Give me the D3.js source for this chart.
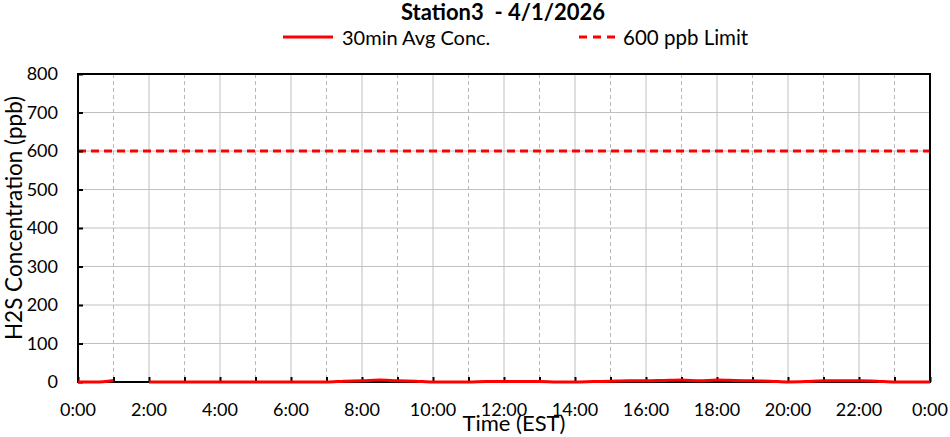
<!DOCTYPE html>
<html><head><meta charset="utf-8">
<script src="https://cdn.jsdelivr.net/npm/d3@7"></script>
<style>body{margin:0;background:#fff}svg{display:block;font-family:Lato,'Open Sans',sans-serif}</style>
</head><body><svg id="c" width="950" height="437"></svg>
<script>
const title = "Station3  - 4/1/2026";
const seriesNames = ["30min Avg Conc.", "600 ppb Limit"];
const hours = [0,0.5,1,1.5,2,2.5,3,3.5,4,4.5,5,5.5,6,6.5,7,7.5,8,8.5,9,9.5,10,10.5,11,11.5,12,12.5,13,13.5,14,14.5,15,15.5,16,16.5,17,17.5,18,18.5,19,19.5,20,20.5,21,21.5,22,22.5,23,23.5,24];
const conc = [0,0,4,null,0,0,0,0,0,0,0,0,0,0,0,2,3,5,3,2,0,0,0,1,1,1,1,0,0,1,2,3,3,4,5,3,5,4,3,2,0,1,3,3,3,2,0,0,0];
const limit = 600;
const yTicks = [0,100,200,300,400,500,600,700,800];
const xTickHours = [0,2,4,6,8,10,12,14,16,18,20,22,24];
const xTickLabels = ["0:00","2:00","4:00","6:00","8:00","10:00","12:00","14:00","16:00","18:00","20:00","22:00","0:00"];

const svg = d3.select("#c");
const m = {l:78, r:930, t:74, b:382};
const x = d3.scaleLinear().domain([0,24]).range([m.l, m.r]);
const y = d3.scaleLinear().domain([0,800]).range([m.b, m.t]);

// gridlines
const g = svg.append("g");
g.selectAll("line.h").data(yTicks.slice(1)).join("line")
  .attr("x1", m.l).attr("x2", m.r).attr("y1", d=>y(d)).attr("y2", d=>y(d))
  .attr("stroke", "#c0c0c0").attr("stroke-width", 1);
const allHours = d3.range(1,24);
g.selectAll("line.v").data(allHours).join("line")
  .attr("x1", d=>x(d)).attr("x2", d=>x(d)).attr("y1", m.t).attr("y2", m.b)
  .attr("stroke", d=> d%2===0 ? "#c0c0c0" : "#b8b8b8")
  .attr("stroke-width", 1)
  .attr("stroke-dasharray", d=> d%2===0 ? null : "4,3");

// limit line
svg.append("line").attr("x1", m.l).attr("x2", m.r).attr("y1", y(limit)).attr("y2", y(limit))
  .attr("stroke", "#ff0000").attr("stroke-width", 3).attr("stroke-dasharray", "8,5");

// axes with inward ticks
const xAxis = d3.axisBottom(x).tickValues(d3.range(0,25)).tickSize(-5).tickFormat("");
svg.append("g").attr("transform", `translate(0,${m.b})`).call(xAxis)
  .call(s=>s.select(".domain").remove())
  .call(s=>s.selectAll(".tick line").attr("stroke","#000").attr("stroke-width",2));
const yAxis = d3.axisLeft(y).tickValues(yTicks).tickSize(-5).tickFormat("");
svg.append("g").attr("transform", `translate(${m.l},0)`).call(yAxis)
  .call(s=>s.select(".domain").remove())
  .call(s=>s.selectAll(".tick line").attr("stroke","#000").attr("stroke-width",2));

// frame
svg.append("rect").attr("x", m.l).attr("y", m.t).attr("width", m.r-m.l).attr("height", m.b-m.t)
  .attr("fill","none").attr("stroke","#000").attr("stroke-width",2);

// data line
const pts = hours.map((h,i)=>({h, v:conc[i]}));
const line = d3.line().defined(d=>d.v!==null).x(d=>x(d.h)).y(d=>y(d.v)).curve(d3.curveMonotoneX);
svg.append("path").datum(pts).attr("d", line).attr("fill","none")
  .attr("stroke","#ff0000").attr("stroke-width",3);

// tick labels
svg.append("g").selectAll("text").data(yTicks).join("text")
  .attr("x", 58).attr("y", d=>y(d)).attr("dy","0.36em").attr("text-anchor","end")
  .attr("font-size", 18).attr("fill","#000").text(d=>d);
svg.append("g").selectAll("text").data(xTickHours).join("text")
  .attr("x", d=>x(d)).attr("y", 416).attr("text-anchor","middle")
  .attr("font-size", 18).attr("fill","#000").text((d,i)=>xTickLabels[i]);

// axis titles
svg.append("text").attr("transform","translate(22,218) rotate(-90)").attr("text-anchor","middle")
  .attr("font-size", 22.5).attr("fill","#000").text("H2S Concentration (ppb)");
svg.append("text").attr("x", 514).attr("y", 431).attr("text-anchor","middle")
  .attr("font-size", 22).attr("fill","#000").text("Time (EST)");

// title
svg.append("text").attr("x", 503).attr("y", 20).attr("text-anchor","middle")
  .attr("font-size", 22).attr("font-weight","bold").attr("fill","#000").style("white-space","pre")
  .attr("xml:space","preserve").text(title);

// legend
const lg = svg.append("g");
lg.append("line").attr("x1",283).attr("x2",333).attr("y1",37).attr("y2",37).attr("stroke","#ff0000").attr("stroke-width",3);
lg.append("text").attr("x",342).attr("y",38).attr("dy","0.35em").attr("font-size",20).text(seriesNames[0]);
lg.append("line").attr("x1",579).attr("x2",615).attr("y1",37).attr("y2",37).attr("stroke","#ff0000").attr("stroke-width",3).attr("stroke-dasharray","8,6");
lg.append("text").attr("x",623).attr("y",38).attr("dy","0.35em").attr("font-size",20.5).text(seriesNames[1]);
</script></body></html>
